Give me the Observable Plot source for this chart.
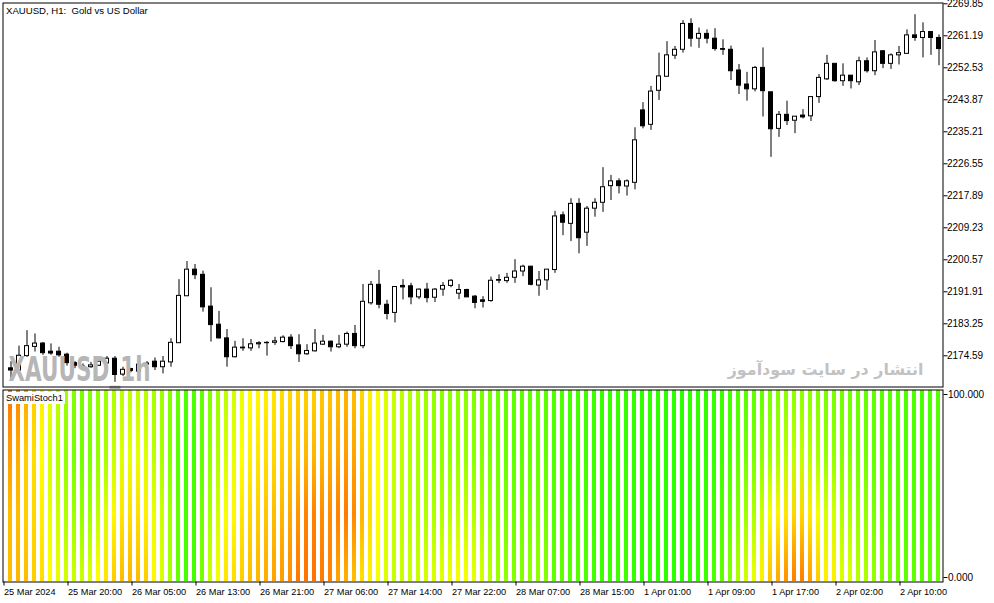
<!DOCTYPE html>
<html>
<head>
<meta charset="utf-8">
<script src="https://cdn.jsdelivr.net/npm/d3@7"></script>
<script src="https://cdn.jsdelivr.net/npm/@observablehq/plot@0.6"></script>
<style>
  html, body { margin: 0; padding: 0; background: #fff; }
  #chart { position: relative; width: 994px; height: 603px; overflow: hidden; font-family: "Liberation Sans", Arial, sans-serif; }
  #chart svg { position: absolute; left: 0; display: block; }
  #chart svg text { white-space: pre; }
  #swlabel { position: absolute; left: 4px; top: 392px; height: 12px; line-height: 12px; padding: 0 2px; background: #fff; font-size: 9.3px; color: #000; white-space: pre; }
</style>
</head>
<body>
<div id="chart"></div>
<script>
// ---------- data ----------
const titleText = "XAUUSD, H1:  Gold vs US Dollar";
const indicatorName = "SwamiStoch1";
const wmSymbol = "XAUUSD_1h";
const wmSite = "انتشار در سایت سودآموز";

const opens = [2171.2, 2170.6, 2174.5, 2177.0, 2177.9, 2175.7, 2175.7, 2174.9, 2172.6, 2171.7,
 2171.5, 2171.9, 2172.5, 2173.8, 2169.5, 2171.0, 2170.3, 2172.2, 2173.0, 2171.5,
 2172.8, 2178.0, 2190.7, 2197.9, 2196.5, 2187.9, 2183.0, 2179.3, 2174.2, 2176.8,
 2176.6, 2177.7, 2178.0, 2178.1, 2178.3, 2179.5, 2177.4, 2175.0, 2175.8, 2177.6,
 2178.4, 2176.9, 2177.6, 2180.5, 2177.2, 2188.8, 2193.8, 2188.4, 2186.2, 2193.5,
 2193.4, 2190.4, 2192.5, 2190.3, 2192.5, 2193.5, 2191.4, 2192.4, 2190.6, 2189.6,
 2189.4, 2194.9, 2194.8, 2195.7, 2197.4, 2198.7, 2193.6, 2195.0, 2197.8, 2212.6,
 2210.3, 2215.7, 2207.9, 2214.4, 2216.0, 2220.5, 2221.8, 2220.4, 2221.4, 2241.0,
 2237.1, 2246.3, 2250.1, 2255.8, 2257.4, 2264.4, 2260.4, 2261.7, 2260.4, 2257.6,
 2257.4, 2251.8, 2248.0, 2246.7, 2252.5, 2245.9, 2236.0, 2239.8, 2238.2, 2239.6,
 2239.4, 2244.6, 2249.4, 2253.6, 2248.9, 2250.4, 2248.6, 2254.3, 2251.6, 2257.0,
 2253.6, 2255.9, 2256.3, 2261.3, 2260.6, 2262.2, 2260.6];

const highs = [2173.0, 2177.2, 2181.4, 2180.5, 2178.2, 2177.8, 2176.9, 2175.3, 2173.0, 2172.4,
 2172.8, 2173.3, 2174.4, 2174.4, 2171.5, 2171.2, 2173.0, 2173.0, 2174.0, 2174.4,
 2179.2, 2195.2, 2200.1, 2199.3, 2197.5, 2193.0, 2186.6, 2181.7, 2178.5, 2179.2,
 2179.0, 2178.4, 2178.4, 2179.6, 2180.0, 2180.3, 2180.3, 2177.6, 2181.7, 2180.1,
 2178.6, 2180.1, 2181.0, 2182.8, 2193.9, 2194.7, 2197.7, 2189.6, 2193.3, 2195.2,
 2194.2, 2192.7, 2194.2, 2192.8, 2194.4, 2195.2, 2193.9, 2192.6, 2190.9, 2190.6,
 2195.9, 2196.5, 2196.9, 2200.6, 2199.1, 2198.8, 2197.4, 2197.9, 2213.7, 2213.5,
 2217.1, 2217.1, 2215.0, 2217.1, 2225.5, 2223.4, 2222.5, 2222.2, 2236.3, 2243.1,
 2247.5, 2256.5, 2259.6, 2258.3, 2265.3, 2265.8, 2263.3, 2262.8, 2263.1, 2260.1,
 2258.4, 2253.4, 2251.3, 2252.9, 2257.9, 2245.9, 2240.7, 2243.5, 2239.3, 2241.2,
 2244.6, 2250.7, 2255.9, 2253.6, 2253.6, 2250.4, 2255.4, 2255.2, 2259.9, 2257.2,
 2256.3, 2258.3, 2262.8, 2266.9, 2264.7, 2262.2, 2261.4];

const lows = [2167.7, 2169.8, 2174.2, 2175.6, 2174.7, 2174.7, 2174.2, 2171.8, 2171.1, 2171.0,
 2171.2, 2171.7, 2172.2, 2167.4, 2169.0, 2170.0, 2170.0, 2171.8, 2170.6, 2169.7,
 2171.5, 2178.0, 2190.7, 2195.2, 2186.4, 2178.3, 2179.1, 2171.5, 2174.0, 2175.8,
 2175.8, 2176.5, 2174.5, 2177.4, 2178.1, 2176.3, 2172.8, 2174.7, 2175.6, 2177.4,
 2175.6, 2176.5, 2176.9, 2176.5, 2176.5, 2188.3, 2187.3, 2184.3, 2183.5, 2189.7,
 2188.4, 2189.8, 2188.9, 2189.0, 2190.7, 2193.0, 2189.8, 2190.4, 2187.3, 2187.5,
 2189.1, 2194.1, 2194.2, 2194.2, 2196.0, 2193.5, 2190.7, 2192.3, 2196.9, 2207.1,
 2205.5, 2202.2, 2204.2, 2212.1, 2213.4, 2216.6, 2218.4, 2217.8, 2219.5, 2236.0,
 2235.6, 2243.7, 2250.1, 2254.8, 2256.5, 2258.1, 2257.8, 2259.0, 2257.0, 2255.9,
 2249.1, 2245.3, 2243.5, 2246.0, 2239.2, 2228.3, 2233.7, 2236.9, 2234.7, 2238.7,
 2238.0, 2242.9, 2249.1, 2248.6, 2247.5, 2246.8, 2247.7, 2251.1, 2250.4, 2252.3,
 2252.1, 2253.3, 2256.3, 2259.7, 2255.2, 2255.9, 2253.1];

const closes = [2170.6, 2174.6, 2177.2, 2177.9, 2175.3, 2175.2, 2174.7, 2172.6, 2171.9, 2171.5,
 2172.0, 2173.0, 2173.8, 2169.4, 2170.8, 2170.5, 2172.2, 2172.5, 2171.5, 2173.0,
 2178.1, 2190.8, 2197.9, 2196.4, 2187.7, 2182.9, 2179.3, 2174.2, 2176.8, 2176.6,
 2177.7, 2178.0, 2178.1, 2178.5, 2179.5, 2177.2, 2175.0, 2175.9, 2177.9, 2178.4,
 2176.9, 2177.6, 2180.5, 2177.2, 2189.2, 2193.8, 2188.4, 2185.9, 2193.2, 2193.1,
 2190.4, 2192.5, 2190.2, 2192.5, 2193.5, 2194.9, 2192.4, 2190.4, 2188.9, 2189.2,
 2194.9, 2195.1, 2195.7, 2197.4, 2198.7, 2193.8, 2195.0, 2197.9, 2212.3, 2210.6,
 2215.7, 2206.4, 2214.4, 2216.0, 2220.2, 2221.8, 2220.5, 2221.8, 2232.9, 2236.7,
 2246.1, 2250.2, 2255.9, 2257.4, 2264.4, 2260.4, 2261.7, 2260.4, 2257.6, 2257.4,
 2251.6, 2247.7, 2246.7, 2252.5, 2246.2, 2235.9, 2239.8, 2238.1, 2239.3, 2239.1,
 2244.6, 2249.8, 2253.6, 2248.9, 2250.4, 2248.9, 2254.3, 2251.6, 2256.7, 2253.6,
 2255.9, 2256.5, 2261.3, 2260.6, 2262.2, 2260.6, 2257.6];

const priceTicks = [2269.85, 2261.19, 2252.53, 2243.87, 2235.21, 2226.55, 2217.89, 2209.23, 2200.57, 2191.91, 2183.25, 2174.59];
const stochTicks = [100, 0];

const dateTickIdx = [-1, 7, 15, 23, 31, 39, 47, 55, 63, 71, 79, 87, 95, 103, 111];
const dateLabels = ["25 Mar 2024", "25 Mar 20:00", "26 Mar 05:00", "26 Mar 13:00", "26 Mar 21:00",
 "27 Mar 06:00", "27 Mar 14:00", "27 Mar 22:00", "28 Mar 07:00", "28 Mar 15:00",
 "1 Apr 01:00", "1 Apr 09:00", "1 Apr 17:00", "2 Apr 02:00", "2 Apr 10:00"];

// SwamiStoch heat values (0..100) per bar, read at four heights (top -> bottom)
const swTop = [10,15,25,35,45,55,65,72,78,80, 78,75,72,68,65,65,65,66,70,72,
 78,85,90,90,85,78,72,65,60,55, 50,48,45,42,40,38,35,35,35,33,
 32,30,28,30,38,45,52,58,62,65, 68,70,72,74,76,76,76,76,78,80,
 82,84,85,86,86,86,86,87,90,90, 92,92,93,94,95,95,95,95,96,97,
 97,97,98,98,98,97,97,96,95,94, 92,90,88,86,84,80,78,76,75,75,
 76,78,80,80,82,82,84,85,86,87, 88,89,90,90,91,90,89];
const swUpper = [20,25,35,40,50,60,68,75,80,82, 80,75,70,62,58,55,55,58,65,70,
 78,88,92,92,85,75,68,60,55,50, 45,42,40,38,35,33,30,28,28,28,
 25,22,20,22,32,42,50,58,62,65, 68,70,72,74,75,75,74,74,76,78,
 80,82,84,86,86,85,85,86,90,90, 92,92,93,94,95,95,95,95,96,97,
 97,97,98,98,98,97,97,96,95,93, 90,86,82,80,76,72,70,66,64,64,
 66,70,74,74,78,78,82,82,85,86, 87,88,90,90,91,90,89];
const swLower = [30,30,35,38,45,55,62,68,72,75, 72,65,58,48,42,40,40,45,55,62,
 72,85,92,92,82,70,60,52,48,42, 38,35,32,30,28,24,18,12,12,15,
 15,12,10,14,28,40,50,58,62,65, 66,68,68,68,68,66,64,64,66,70,
 74,78,80,82,82,80,80,82,88,88, 90,90,91,93,95,95,94,94,96,97,
 97,97,98,98,98,97,96,95,93,90, 85,78,72,68,62,52,46,42,38,38,
 44,52,60,60,68,68,74,75,80,82, 84,86,88,88,90,88,87];
const swBottom = [30,28,30,35,40,50,55,60,62,62, 58,50,42,35,30,28,30,35,48,58,
 70,85,92,92,80,62,52,42,40,35, 30,28,25,22,20,16,10,8,8,10,
 12,22,25,30,40,45,52,58,62,62, 62,62,60,58,56,54,52,52,55,60,
 66,72,75,78,78,75,74,78,86,86, 88,88,90,92,94,94,93,93,96,97,
 97,97,98,98,98,96,95,94,90,86, 78,68,60,55,45,32,25,18,12,12,
 22,35,45,45,58,58,66,68,74,78, 80,82,86,86,88,86,84];

// ---------- build ----------
const n = opens.length;
const candles = opens.map((o, i) => ({i, open: o, high: highs[i], low: lows[i], close: closes[i]}));
const swami = swTop.map((v, i) => ({i, r0: v, r1: swUpper[i], r2: swLower[i], r3: swBottom[i]}));
const xDomain = [-0.875, n - 0.5];
const xRange = [3.5, 942.5];
const fontFam = "Liberation Sans, Arial, sans-serif";

const heat = d3.scaleLinear().domain([0, 50, 100]).range(["#ff5a00", "#ffff00", "#22ff00"]).interpolate(d3.interpolateRgb).clamp(true);

const chart = document.getElementById("chart");

const topPlot = Plot.plot({
  width: 994, height: 389,
  marginLeft: 2.5, marginRight: 51.5, marginTop: 2.5, marginBottom: 2.5,
  style: {fontFamily: fontFam, fontSize: "10px", background: "white", color: "black", overflow: "visible"},
  x: {type: "linear", domain: xDomain, range: xRange, axis: null},
  y: {type: "linear", domain: [2166.28, 2270.74], range: [386, 0], axis: null},
  color: {type: "identity"},
  marks: [
    Plot.ruleX(candles, {x: "i", y1: "low", y2: "high", stroke: "black", strokeWidth: 1}),
    Plot.rect(candles, {x1: d => d.i - 0.25, x2: d => d.i + 0.25, y1: "open", y2: "close",
      fill: d => d.close >= d.open ? "white" : "black", stroke: "black", strokeWidth: 1}),
    Plot.text([wmSymbol], {frameAnchor: "bottom-left", textAnchor: "start", lineAnchor: "bottom",
      dx: 5.5, dy: -6, fontSize: 34, fontWeight: "bold", fontFamily: "DejaVu Sans", fill: "#b6b6b6"}),
    Plot.text([wmSite], {frameAnchor: "bottom-right", textAnchor: "end", lineAnchor: "bottom",
      dx: -19.5, dy: -12, fontSize: 19, fontWeight: "bold", fontFamily: "DejaVu Sans", fill: "#c2c2c2"}),
    Plot.text([titleText], {frameAnchor: "top-left", textAnchor: "start", lineAnchor: "top",
      dx: 3, dy: 4, fontSize: 9.6, fill: "black"}),
    Plot.axisY(priceTicks, {anchor: "right", tickSize: 4, tickPadding: 0, tickFormat: d3.format(".2f"), fontSize: 10}),
    Plot.frame({stroke: "black"})
  ]
});
topPlot.style.top = "0px";
chart.appendChild(topPlot);

d3.select(topPlot).selectAll("text")
  .filter(function() { return this.textContent === wmSymbol; })
  .attr("textLength", 142).attr("lengthAdjust", "spacingAndGlyphs");
// fit the site watermark to its width by font size
d3.select(topPlot).selectAll("text")
  .filter(function() { return this.textContent === wmSite; })
  .each(function() {
    const len = this.getComputedTextLength();
    if (len > 0) this.setAttribute("font-size", (19 * 196 / len).toFixed(2));
  });

const bottomPlot = Plot.plot({
  width: 994, height: 214,
  marginLeft: 2.5, marginRight: 51.5, marginTop: 0.5, marginBottom: 21.5,
  style: {fontFamily: fontFam, fontSize: "10px", background: "white", color: "black", overflow: "visible"},
  x: {type: "linear", domain: xDomain, range: xRange, axis: null},
  y: {type: "linear", domain: [0, 100], range: [192, 1], axis: null},
  color: {type: "identity"},
  marks: [
    Plot.rect(swami, {x1: d => d.i - 0.3125, x2: d => d.i + 0.1875, y1: 0, y2: 100, fill: d => `url(#swg${d.i})`}),
    Plot.axisX(dateTickIdx, {anchor: "bottom", tickSize: 4, tickPadding: 2, textAnchor: "start", dx: 1,
      tickFormat: v => dateLabels[dateTickIdx.indexOf(v)], fontSize: 9.2}),
    Plot.axisY([stochTicks[0]], {anchor: "right", tickSize: 4, tickPadding: 1, tickFormat: d3.format(".3f"), dy: 4, fontSize: 10}),
    Plot.axisY([stochTicks[1]], {anchor: "right", tickSize: 4, tickPadding: 1, tickFormat: d3.format(".3f"), dy: -4, fontSize: 10}),
    Plot.frame({stroke: "black"})
  ]
});
bottomPlot.style.top = "389px";
chart.appendChild(bottomPlot);

const defs = d3.select(bottomPlot).insert("defs", ":first-child");
const stopOffsets = [0.03, 0.35, 0.65, 0.97];
swami.forEach(d => {
  const g = defs.append("linearGradient").attr("id", `swg${d.i}`)
    .attr("x1", 0).attr("y1", 0).attr("x2", 0).attr("y2", 1);
  [d.r0, d.r1, d.r2, d.r3].forEach((v, j) => g.append("stop").attr("offset", stopOffsets[j]).attr("stop-color", heat(v)));
});

const lbl = document.createElement("div");
lbl.id = "swlabel";
lbl.textContent = indicatorName;
chart.appendChild(lbl);
</script>
</body>
</html>
